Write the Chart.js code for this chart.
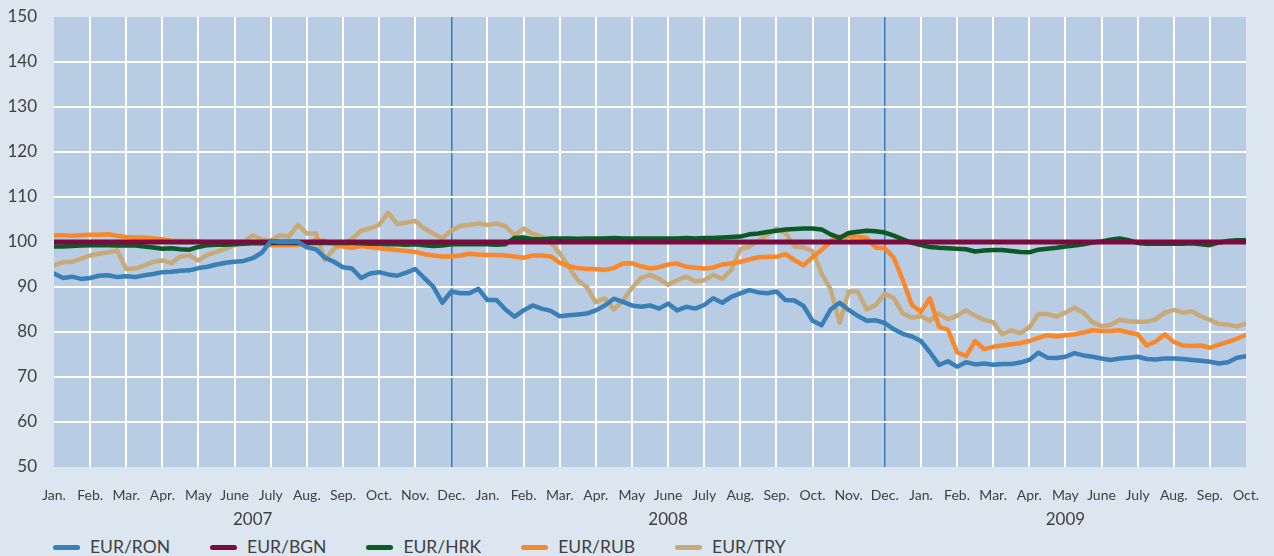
<!DOCTYPE html>
<html>
<head>
<meta charset="utf-8">
<title>EUR exchange rates 2007-2009</title>
<script src="https://cdn.jsdelivr.net/npm/chart.js@4.4.1/dist/chart.umd.min.js"></script>
<style>
    html, body { margin: 0; padding: 0; background: #dce6f1; overflow: hidden; }
    #wrap { position: relative; width: 1274px; height: 556px; }
    #legend {
        position: absolute; left: 53px; top: 537px;
        display: flex; align-items: center;
        font-family: Lato, "Open Sans", sans-serif; font-size: 17.5px; line-height: 20px; color: #404040;
    }
    #legend .item { display: flex; align-items: center; margin-right: 40px; }
    #legend .swatch { width: 27px; height: 5px; border-radius: 3px; margin-right: 10px; }
</style>
</head>
<body>
<div id="wrap">
    <canvas id="fxChart" width="1274" height="530"></canvas>
    <div id="legend"></div>
</div>
<script>
// Month ticks, Jan 2007 .. Oct 2009 (one tick per month start)
const monthLabels = [
    'Jan.', 'Feb.', 'Mar.', 'Apr.', 'May', 'June', 'July', 'Aug.', 'Sep.', 'Oct.', 'Nov.', 'Dec.',
    'Jan.', 'Feb.', 'Mar.', 'Apr.', 'May', 'June', 'July', 'Aug.', 'Sep.', 'Oct.', 'Nov.', 'Dec.',
    'Jan.', 'Feb.', 'Mar.', 'Apr.', 'May', 'June', 'July', 'Aug.', 'Sep.', 'Oct.'
];
const yearLabels = ['2007', '2008', '2009'];
const yearPositions = [5.5, 17, 28];
const yearSeparators = [11, 23];
const yTicks = [50, 60, 70, 80, 90, 100, 110, 120, 130, 140, 150];

// Index, 1 Jan 2007 = 100, read every quarter of a month
const eurRon = [
    93.0, 92.0, 92.3, 91.8,  92.0, 92.5, 92.6, 92.2,  92.4, 92.2, 92.6, 92.9,
    93.3, 93.4, 93.6, 93.7,  94.2, 94.5, 95.0, 95.4,  95.6, 95.8, 96.4, 97.6,
    100.2, 100.0, 100.0, 100.1,  98.8, 98.4, 96.5, 95.6,  94.4, 94.1, 92.0, 93.0,
    93.3, 92.8, 92.5, 93.2,  94.0, 92.0, 90.1, 86.5,  89.0, 88.6, 88.6, 89.6,
    87.1, 87.1, 85.0, 83.4,  84.8, 85.9, 85.2, 84.7,  83.5, 83.7, 83.9, 84.1,
    84.8, 85.9, 87.4, 86.7,  85.9, 85.6, 85.9, 85.2,  86.3, 84.8, 85.6, 85.2,
    86.0, 87.5, 86.5, 87.8,  88.6, 89.3, 88.8, 88.6,  89.0, 87.1, 87.0, 85.8,
    82.5, 81.5, 85.0, 86.5,  84.9, 83.6, 82.5, 82.6,  82.0, 80.6, 79.6, 79.0,
    78.0, 75.5, 72.7, 73.5,  72.3, 73.3, 72.8, 73.0,  72.7, 72.9, 72.9, 73.2,
    73.8, 75.4, 74.3, 74.2,  74.5, 75.3, 74.8, 74.5,  74.1, 73.8, 74.1, 74.3,
    74.5, 74.0, 73.9, 74.1,  74.1, 74.0, 73.8, 73.6,  73.4, 73.0, 73.3, 74.3,
    74.6
];

const eurBgn = [
    100, 100, 100, 100,  100, 100, 100, 100,  100, 100, 100, 100,
    100, 100, 100, 100,  100, 100, 100, 100,  100, 100, 100, 100,
    100, 100, 100, 100,  100, 100, 100, 100,  100, 100, 100, 100,
    100, 100, 100, 100,  100, 100, 100, 100,  100, 100, 100, 100,
    100, 100, 100, 100,  100, 100, 100, 100,  100, 100, 100, 100,
    100, 100, 100, 100,  100, 100, 100, 100,  100, 100, 100, 100,
    100, 100, 100, 100,  100, 100, 100, 100,  100, 100, 100, 100,
    100, 100, 100, 100,  100, 100, 100, 100,  100, 100, 100, 100,
    100, 100, 100, 100,  100, 100, 100, 100,  100, 100, 100, 100,
    100, 100, 100, 100,  100, 100, 100, 100,  100, 100, 100, 100,
    100, 100, 100, 100,  100, 100, 100, 100,  100, 100, 100, 100,
    100
];

const eurHrk = [
    99.0, 99.0, 99.1, 99.2,  99.3, 99.3, 99.3, 99.2,  99.3, 99.2, 99.0, 98.8,
    98.5, 98.6, 98.4, 98.3,  98.9, 99.3, 99.4, 99.4,  99.5, 99.6, 99.7, 99.7,
    99.8, 99.8, 99.8, 99.8,  99.8, 99.8, 99.8, 99.8,  99.8, 99.8, 99.7, 99.6,
    99.6, 99.5, 99.5, 99.4,  99.5, 99.3, 99.1, 99.2,  99.5, 99.5, 99.5, 99.5,
    99.5, 99.4, 99.5, 100.9,  101.0, 100.6, 100.6, 100.8,  100.8, 100.8, 100.7, 100.8,
    100.8, 100.8, 100.9, 100.8,  100.8, 100.8, 100.8, 100.8,  100.8, 100.8, 100.9, 100.8,
    100.9, 100.9, 101.0, 101.1,  101.2, 101.7, 101.9, 102.2,  102.5, 102.8, 102.9, 103.0,
    103.0, 102.8, 101.7, 100.9,  102.0, 102.3, 102.5, 102.4,  102.1, 101.4, 100.6, 99.8,
    99.3, 98.9, 98.7, 98.6,  98.5, 98.4, 97.9, 98.1,  98.2, 98.2, 98.0, 97.8,
    97.7, 98.3, 98.5, 98.7,  99.0, 99.2, 99.5, 99.9,  100.1, 100.5, 100.8, 100.4,
    99.8, 99.6, 99.6, 99.6,  99.6, 99.6, 99.7, 99.5,  99.3, 99.9, 100.2, 100.4,
    100.4
];

const eurRub = [
    101.5, 101.5, 101.4, 101.5,  101.6, 101.6, 101.7, 101.4,  101.1, 101.0, 101.0, 100.8,
    100.6, 100.3, 100.2, 100.2,  100.1, 100.0, 100.0, 100.0,  100.0, 99.9, 99.9, 99.8,
    99.3, 99.3, 99.3, 99.4,  99.6, 100.4, 100.2, 99.5,  99.0, 98.7, 99.1, 98.9,
    98.6, 98.4, 98.2, 98.0,  97.8, 97.3, 97.0, 96.8,  96.8, 97.0, 97.4, 97.2,
    97.1, 97.1, 97.0, 96.8,  96.5, 97.0, 97.0, 96.8,  95.4, 94.6, 94.2, 94.0,
    94.0, 93.8, 94.2, 95.2,  95.3, 94.6, 94.1, 94.4,  95.0, 95.2, 94.5, 94.3,
    94.1, 94.3, 95.0, 95.2,  95.6, 96.1, 96.6, 96.7,  96.7, 97.3, 96.0, 94.8,
    96.6, 98.2, 100.2, 101.2,  101.2, 101.2, 100.9, 98.8,  98.6, 96.5, 91.5, 86.0,
    84.5, 87.5, 81.2, 80.5,  75.5, 74.6, 78.0, 76.2,  76.7, 77.0, 77.3, 77.5,
    78.0, 78.7, 79.3, 79.0,  79.3, 79.5, 79.9, 80.4,  80.2, 80.2, 80.4, 79.9,
    79.5, 77.0, 77.9, 79.5,  77.8, 77.0, 76.9, 77.0,  76.5, 77.2, 77.8, 78.5,
    79.4
];

const eurTry = [
    94.8, 95.5, 95.6, 96.3,  97.0, 97.4, 97.7, 98.1,  94.0, 94.1, 94.8, 95.6,
    95.9, 95.3, 96.8, 97.0,  95.9, 97.2, 97.8, 98.5,  99.3, 100.0, 101.5, 100.5,
    100.3, 101.5, 101.2, 103.8,  101.9, 101.9, 96.0, 98.5,  99.5, 100.7, 102.5, 103.0,
    103.8, 106.5, 104.0, 104.3,  104.7, 103.0, 101.9, 100.8,  102.5, 103.6, 103.8, 104.1,
    103.8, 104.1, 103.5, 101.5,  103.0, 101.8, 101.2, 100.0,  97.5, 94.5, 91.5, 90.0,
    86.6, 87.5, 85.0, 87.0,  89.8, 92.0, 92.7, 91.8,  90.5, 91.5, 92.3, 91.3,
    91.5, 92.7, 91.8, 93.8,  98.4, 99.0, 100.3, 101.6,  103.0, 102.0, 99.0, 98.8,
    98.0, 93.0, 89.5, 82.0,  89.0, 89.0, 85.0, 86.0,  88.5, 87.5, 84.1, 83.2,
    83.5, 82.5, 84.1, 82.8,  83.6, 84.8, 83.6, 82.7,  82.2, 79.5, 80.4, 79.7,
    81.0, 84.0, 84.0, 83.4,  84.3, 85.4, 84.3, 82.2,  81.3, 81.6, 82.7, 82.4,
    82.3, 82.3, 82.8, 84.3,  84.9, 84.3, 84.6, 83.5,  82.7, 81.8, 81.6, 81.2,
    81.9
];

const textColor = '#404040';
const noColor = 'rgba(0,0,0,0)';
Chart.defaults.font.family = 'Lato, "Open Sans", sans-serif';
Chart.defaults.color = textColor;

// samples are a quarter month apart
function toPoints(values) {
    return values.map((v, i) => ({ x: i / 4, y: v }));
}

function makeDataset(label, values, color, width) {
    return {
        label: label,
        data: toPoints(values),
        borderColor: color,
        backgroundColor: color,
        borderWidth: width,
        borderCapStyle: 'round',
        borderJoinStyle: 'round',
        pointRadius: 0,
        tension: 0,
        fill: false
    };
}

const plotBackground = {
    id: 'plotBackground',
    beforeDraw(chart) {
        const { ctx, chartArea } = chart;
        ctx.save();
        ctx.fillStyle = '#b8cce4';
        ctx.fillRect(chartArea.left, chartArea.top, chartArea.width, chartArea.height);
        ctx.restore();
    }
};

const fxCtx = document.getElementById('fxChart').getContext('2d');

const fxChart = new Chart(fxCtx, {
    type: 'line',
    data: {
        datasets: [
            makeDataset('EUR/RON', eurRon, '#3a7fb6', 4.5),
            makeDataset('EUR/BGN', eurBgn, '#7b0b3e', 5),
            makeDataset('EUR/HRK', eurHrk, '#0b5a26', 4.5),
            makeDataset('EUR/RUB', eurRub, '#f7892c', 4.5),
            makeDataset('EUR/TRY', eurTry, '#c7aa78', 4.5)
        ]
    },
    options: {
        responsive: false,
        animation: false,
        layout: {
            padding: { left: 7, right: 28, top: 17, bottom: 0 }
        },
        scales: {
            x: {
                type: 'linear',
                position: 'bottom',
                weight: 0,
                min: 0,
                max: 33,
                afterFit: (scale) => { scale.height = 36; },
                border: { display: false },
                grid: {
                    drawTicks: true,
                    tickLength: 20,
                    tickColor: noColor,
                    lineWidth: (c) => (c.tick && yearSeparators.includes(c.tick.value)) ? 1.5 : 2,
                    color: (c) => {
                        const v = c.tick ? c.tick.value : -1;
                        if (v === 0 || v === 33) return noColor;
                        return yearSeparators.includes(v) ? '#3a7ab8' : '#ffffff';
                    }
                },
                ticks: {
                    stepSize: 1,
                    autoSkip: false,
                    maxRotation: 0,
                    padding: 0,
                    color: textColor,
                    font: { size: 14 },
                    callback: (value) => monthLabels[value]
                }
            },
            years: {
                type: 'linear',
                position: 'bottom',
                weight: 1,
                min: 0,
                max: 33,
                afterBuildTicks: (scale) => {
                    scale.ticks = yearPositions.map((v) => ({ value: v }));
                },
                afterFit: (scale) => { scale.height = 27; },
                border: { display: false },
                grid: { display: false, drawTicks: false },
                ticks: {
                    autoSkip: false,
                    maxRotation: 0,
                    padding: 6,
                    color: textColor,
                    font: { size: 17 },
                    callback: (value) => yearLabels[yearPositions.indexOf(value)]
                }
            },
            y: {
                min: yTicks[0],
                max: yTicks[yTicks.length - 1],
                afterFit: (scale) => { scale.width = 47; },
                afterBuildTicks: (scale) => {
                    scale.ticks = yTicks.map((v) => ({ value: v }));
                },
                border: { display: false },
                grid: {
                    drawTicks: true,
                    tickLength: 17,
                    tickColor: noColor,
                    lineWidth: 2,
                    color: (c) => {
                        const v = c.tick ? c.tick.value : -1;
                        return (v === 50 || v === 150) ? noColor : '#ffffff';
                    }
                },
                ticks: {
                    padding: 0,
                    color: textColor,
                    font: { size: 17 }
                }
            }
        },
        plugins: {
            legend: { display: false },
            tooltip: { enabled: false }
        }
    },
    plugins: [plotBackground]
});

// Legend row under the canvas, built from the chart's datasets
const legendBox = document.getElementById('legend');
fxChart.data.datasets.forEach((ds) => {
    const item = document.createElement('div');
    item.className = 'item';
    const swatch = document.createElement('span');
    swatch.className = 'swatch';
    swatch.style.background = ds.borderColor;
    const label = document.createElement('span');
    label.textContent = ds.label;
    item.appendChild(swatch);
    item.appendChild(label);
    legendBox.appendChild(item);
});
</script>
</body>
</html>
